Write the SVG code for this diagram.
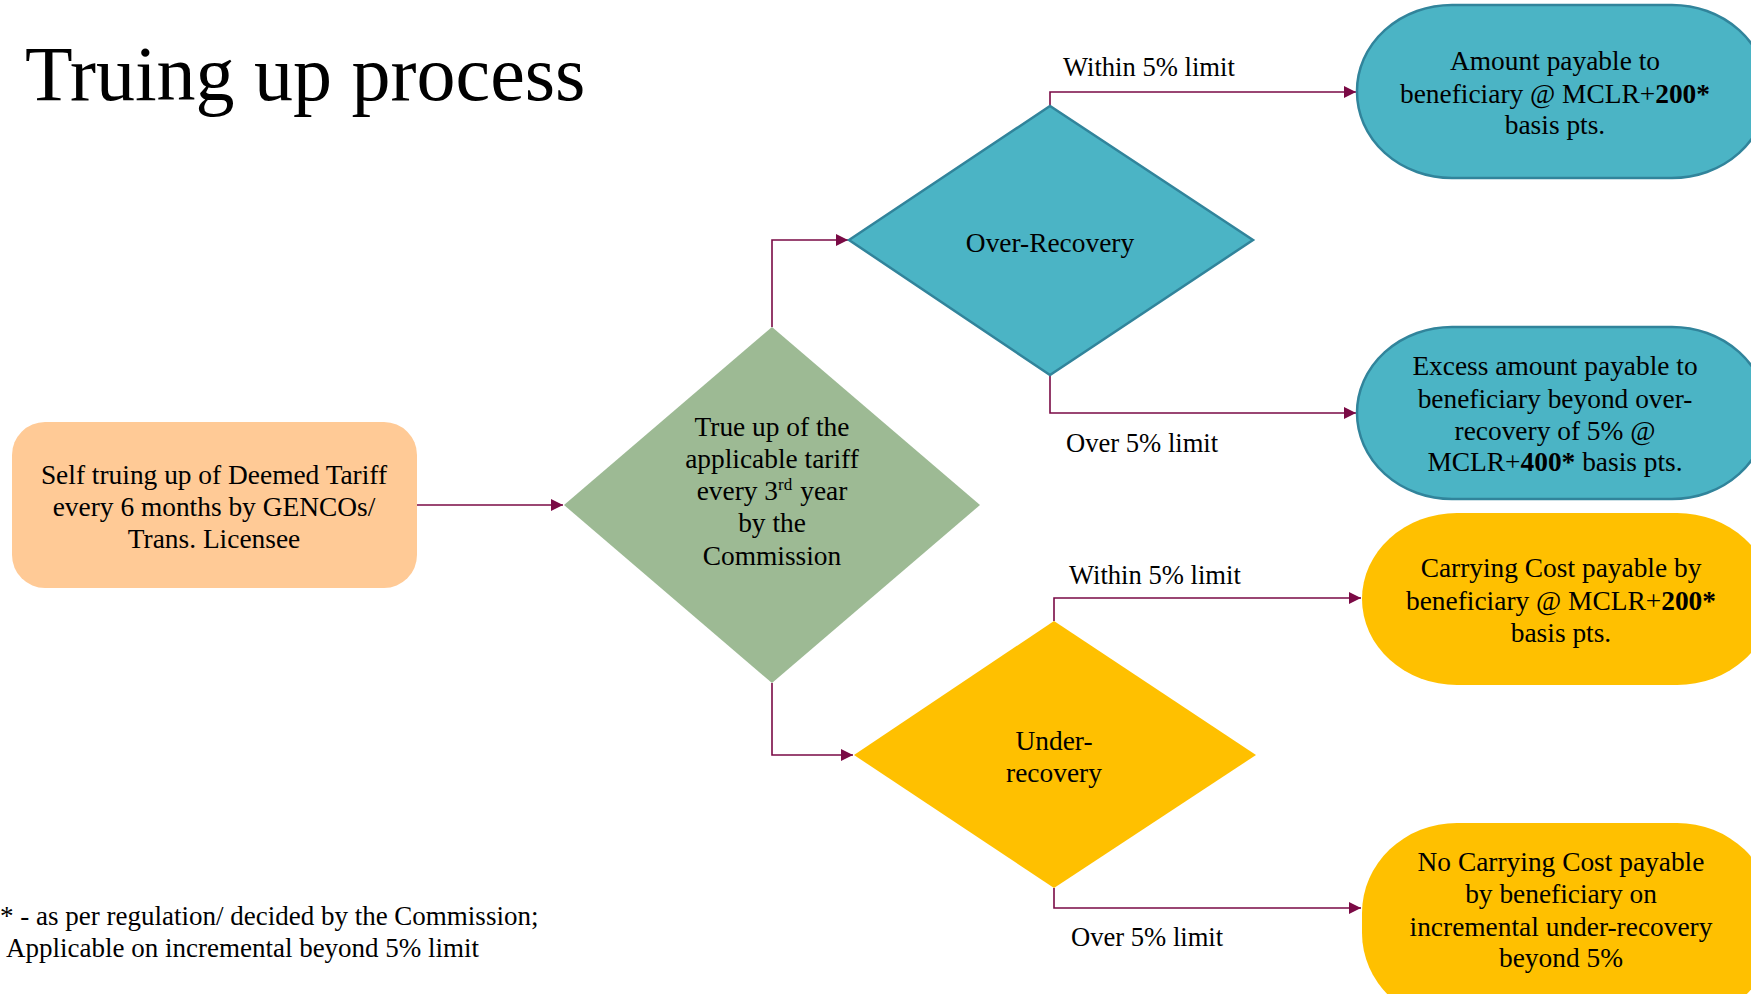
<svg xmlns="http://www.w3.org/2000/svg" width="1751" height="994" viewBox="0 0 1751 994">
<style>
text{font-family:"Liberation Serif","Times New Roman",serif;fill:#000;}
.t{font-size:27.4px;text-anchor:middle;}
.l{font-size:26.6px;}
.f{font-size:27px;}
.c{fill:none;stroke:#7A0A45;stroke-width:1.6;}
.teal{fill:#4BB4C5;stroke:#31849B;stroke-width:2.5;}
.yel{fill:#FFC000;}
.b{font-weight:bold;}
</style>
<defs>
<marker id="ah" viewBox="0 0 10 10" refX="10" refY="5" markerWidth="12" markerHeight="12" markerUnits="userSpaceOnUse" orient="auto">
<path d="M0,0 L10,5 L0,10 z" fill="#7A0A45"/>
</marker>
</defs>
<rect width="1751" height="994" fill="#fff"/>
<text id="title" x="25" y="100" style="font-size:78px">Truing up process</text>

<g id="connectors">
<path class="c" d="M417,505 H563" marker-end="url(#ah)"/>
<path class="c" d="M772,327 V240 H848" marker-end="url(#ah)"/>
<path class="c" d="M772,683 V755 H853" marker-end="url(#ah)"/>
<path class="c" d="M1050,106 V92 H1356" marker-end="url(#ah)"/>
<path class="c" d="M1050,375 V413 H1356" marker-end="url(#ah)"/>
<path class="c" d="M1054,621 V598 H1361" marker-end="url(#ah)"/>
<path class="c" d="M1054,888 V908 H1361" marker-end="url(#ah)"/>
<text class="l" x="1063" y="76">Within 5% limit</text>
<text class="l" x="1066" y="452">Over 5% limit</text>
<text class="l" x="1069" y="584">Within 5% limit</text>
<text class="l" x="1071" y="946">Over 5% limit</text>
</g>

<g id="self">
<rect x="12" y="422" width="405" height="166" rx="33" fill="#FFCA96"/>
<text class="t" x="214" y="484">Self truing up of Deemed Tariff</text>
<text class="t" x="214" y="516">every 6 months by GENCOs/</text>
<text class="t" x="214" y="548">Trans. Licensee</text>
</g>

<g id="trueup">
<polygon points="564,505 772,327 980,505 772,683" fill="#9DBA94"/>
<text class="t" x="772" y="436">True up of the</text>
<text class="t" x="772" y="468">applicable tariff</text>
<text class="t" x="772" y="500">every 3<tspan style="font-size:17px" dy="-10">rd</tspan><tspan dy="10" dx="8">year</tspan></text>
<text class="t" x="772" y="532">by the</text>
<text class="t" x="772" y="565">Commission</text>
</g>

<g id="over">
<polygon class="teal" points="849,240 1050,106 1253,240 1050,375"/>
<text class="t" x="1050" y="252">Over-Recovery</text>
</g>

<g id="under">
<polygon class="yel" points="854,755 1054,621 1256,755 1054,888"/>
<text class="t" x="1054" y="750">Under-</text>
<text class="t" x="1054" y="782">recovery</text>
</g>

<g id="amount">
<rect class="teal" x="1357" y="5" width="410" height="173" rx="95" ry="86"/>
<text class="t" x="1555" y="70">Amount payable to</text>
<text class="t" x="1555" y="103">beneficiary @ MCLR+<tspan class="b">200*</tspan></text>
<text class="t" x="1555" y="134">basis pts.</text>
</g>

<g id="excess">
<rect class="teal" x="1357" y="327" width="410" height="172" rx="95" ry="86"/>
<text class="t" x="1555" y="375">Excess amount payable to</text>
<text class="t" x="1555" y="408">beneficiary beyond over-</text>
<text class="t" x="1555" y="440">recovery of 5% @</text>
<text class="t" x="1555" y="471">MCLR+<tspan class="b">400*</tspan> basis pts.</text>
</g>

<g id="carrying">
<rect class="yel" x="1362" y="513" width="410" height="172" rx="95" ry="86"/>
<text class="t" x="1561" y="577">Carrying Cost payable by</text>
<text class="t" x="1561" y="610">beneficiary @ MCLR+<tspan class="b">200*</tspan></text>
<text class="t" x="1561" y="642">basis pts.</text>
</g>

<g id="nocarrying">
<rect class="yel" x="1362" y="823" width="410" height="200" rx="95" ry="90"/>
<text class="t" x="1561" y="871">No Carrying Cost payable</text>
<text class="t" x="1561" y="903">by beneficiary on</text>
<text class="t" x="1561" y="936">incremental under-recovery</text>
<text class="t" x="1561" y="967">beyond 5%</text>
</g>

<g id="footnote">
<text class="f" x="0" y="925">* - as per regulation/ decided by the Commission;</text>
<text class="f" x="6" y="957">Applicable on incremental beyond 5% limit</text>
</g>
</svg>
